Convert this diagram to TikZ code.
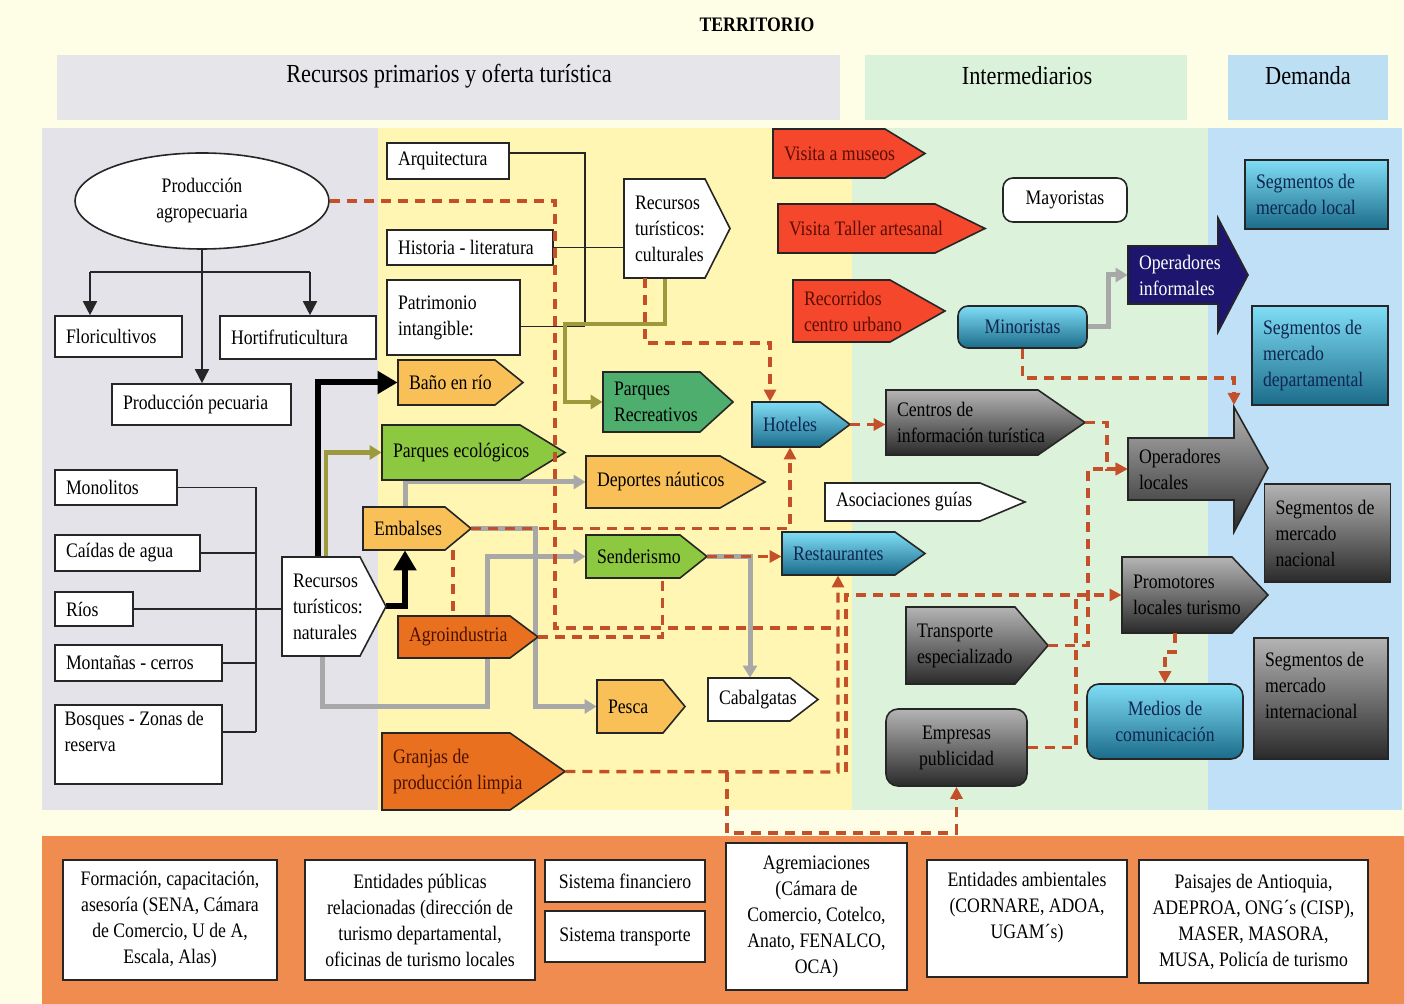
\documentclass[tikz,border=0pt]{standalone}
\usepackage{fontspec}
\setmainfont{Liberation Serif}[FakeStretch=0.86]
\usetikzlibrary{arrows.meta,shapes.geometric}
\pgfdeclarelayer{zones}
\pgfdeclarelayer{lines}
\pgfsetlayers{zones,lines,main}

\definecolor{bgY}{HTML}{FEFDE6}
\definecolor{zGray}{HTML}{E3E3E9}
\definecolor{zYel}{HTML}{FFF6B4}
\definecolor{zGrn}{HTML}{DCF2DA}
\definecolor{zBlu}{HTML}{BFE0F6}
\definecolor{hGray}{HTML}{E6E6EA}
\definecolor{hGrn}{HTML}{DAF1DA}
\definecolor{hBlu}{HTML}{BCDFF4}
\definecolor{bOra}{HTML}{F18C50}
\definecolor{lOra}{HTML}{F9C058}
\definecolor{dOra}{HTML}{E8701E}
\definecolor{gLim}{HTML}{8CC840}
\definecolor{gTeal}{HTML}{4DAE6E}
\definecolor{rRed}{HTML}{F5472B}
\definecolor{bTop}{HTML}{80DDF6}
\definecolor{bBot}{HTML}{1B6C8A}
\definecolor{gTop}{HTML}{B4B4B4}
\definecolor{gBot}{HTML}{2A2A2A}
\definecolor{navy}{HTML}{1E166E}
\definecolor{dashR}{HTML}{C4502A}
\definecolor{grayL}{HTML}{A8A8A8}
\definecolor{oliveL}{HTML}{9C9A3C}
\definecolor{txtR}{HTML}{5A0E04}
\definecolor{txtO}{HTML}{4A1000}
\definecolor{txtB}{HTML}{0E2650}

\tikzset{
  box/.style={draw=black!85, line width=0.8pt},
  wbox/.style={box, fill=white},
  bshade/.style={box, top color=bTop, bottom color=bBot},
  gshade/.style={box, top color=gTop, bottom color=gBot},
  bbox/.style={bshade, text=txtB},
  gbox/.style={gshade},
  lft/.style={align=left, text width=\bxt pt},
  ctr/.style={align=center, text width=\bxc pt, inner xsep=2pt},
  thinl/.style={draw=black!85, line width=0.8pt},
  tarr/.style={thinl, -{Triangle[length=7pt,width=7pt]}},
  bar/.style={draw=black, line width=3pt, -{Triangle[length=10pt,width=11pt]}},
  gar/.style={draw=grayL, line width=2.5pt, -{Triangle[length=6pt,width=7pt]}},
  oar/.style={draw=oliveL, line width=2.2pt, -{Triangle[length=6pt,width=7pt]}},
  rd/.style={draw=dashR, line width=1.7pt, dash pattern=on 5pt off 3.5pt},
  rda/.style={rd, -{Triangle[length=6pt,width=6pt]}},
}

\newcommand\tsp{\spaceskip=.215em\xspaceskip=.24em\relax}

% box: name, x1, y1, x2, y2, style, text
\newcommand\rbx[7]{%
  \pgfmathsetmacro\bxw{(#4-#2)*0.5}%
  \pgfmathsetmacro\bxh{(#5-#3)*0.5}%
  \pgfmathsetmacro\bxt{(#4-#2)*0.5-11}%
  \pgfmathsetmacro\bxc{(#4-#2)*0.5-4}%
  \node[minimum width=\bxw pt, minimum height=\bxh pt, inner xsep=5.5pt, inner ysep=0pt, lft, #6] (#1) at ({(#2+#4)/2},{(#3+#5)/2}) {\tsp #7};}

% pentagon: name, x1, y1, x2, y2, body x, shape style, text style, text
\newcommand\pnt[9]{%
  \path[box,#7] (#2,#3) -- (#6,#3) -- (#4,{(#3+#5)/2}) -- (#6,#5) -- (#2,#5) -- cycle;
  \rbx{#1}{#2}{#3}{#4}{#5}{#8}{#9}}

\begin{document}
\begin{tikzpicture}[x=0.5pt, y=-0.5pt, font=\fontsize{10.3}{13}\selectfont]
\useasboundingbox (0,0) rectangle (1404,1004);

\begin{pgfonlayer}{zones}
\fill[bgY] (0,0) rectangle (1404,1004);
\fill[hGray] (57,55) rectangle (840,120);
\fill[hGrn] (865,55) rectangle (1187,120);
\fill[hBlu] (1228,55) rectangle (1388,120);
\fill[zGray] (42,128) rectangle (378,810);
\fill[zYel] (378,128) rectangle (852,810);
\fill[zGrn] (852,128) rectangle (1208,810);
\fill[zBlu] (1208,128) rectangle (1402,810);
\fill[bOra] (42,836) rectangle (1404,1004);
\end{pgfonlayer}

% titles
\node[font=\fontsize{10.3}{12}\selectfont\bfseries] (terr) at (757,25) {TERRITORIO};
\node[font=\fontsize{13}{15}\selectfont] (hrec) at (449,76) {Recursos primarios y oferta turística};
\node[font=\fontsize{13}{15}\selectfont] (hint) at (1027,76) {Intermediarios};
\node[font=\fontsize{13}{15}\selectfont] (hdem) at (1308,76) {Demanda};

% ---- gray zone
\node[ellipse, draw=black!85, line width=0.8pt, fill=white, minimum width=127pt, minimum height=48pt, align=center, inner sep=0pt] (prod) at (202,201) {Producción\\agropecuaria};
\rbx{flori}{55}{316}{182}{357}{wbox}{Floricultivos}
\rbx{horti}{220}{316}{376}{359}{wbox}{Hortifruticultura}
\rbx{pecu}{112}{384}{291}{425}{wbox}{Producción pecuaria}
\rbx{mono}{55}{470}{177}{505}{wbox}{Monolitos}
\rbx{caida}{55}{535}{200}{571}{wbox}{Caídas de agua}
\rbx{rios}{55}{592}{133}{626}{wbox}{Ríos}
\rbx{mont}{55}{645}{222}{681}{wbox}{Montañas - cerros}
\rbx{bosq}{55}{705}{222}{784}{wbox, text width=74pt, inner xsep=3pt}{Bosques - Zonas de\\reserva\\\mbox{}}
\pnt{nat}{282}{557}{386}{656}{360}{fill=white}{}{Recursos\\turísticos:\\naturales}

% ---- yellow zone
\rbx{arq}{387}{143}{509}{179}{wbox}{Arquitectura}
\rbx{hist}{387}{230}{553}{265}{wbox}{Historia - literatura}
\rbx{patr}{387}{280}{520}{355}{wbox}{Patrimonio\\intangible:}
\pnt{cult}{624}{179}{730}{278}{705}{fill=white}{}{Recursos\\turísticos:\\culturales}
\pnt{bano}{398}{360}{523}{405}{495}{fill=lOra}{}{Baño en río}
\pnt{pecol}{382}{425}{565}{480}{520}{fill=gLim}{}{Parques ecológicos}
\pnt{emb}{363}{507}{471}{550}{445}{fill=lOra}{}{Embalses}
\pnt{agro}{398}{616}{538}{658}{510}{fill=dOra}{text=txtO}{Agroindustria}
\pnt{gran}{382}{733}{565}{810}{510}{fill=dOra}{text=txtO}{Granjas de\\producción limpia}
\pnt{precr}{603}{372}{733}{432}{700}{fill=gTeal}{}{Parques\\Recreativos}
\pnt{dep}{586}{456}{765}{508}{720}{fill=lOra}{}{Deportes náuticos}
\pnt{send}{586}{535}{707}{578}{680}{fill=gLim}{}{Senderismo}
\pnt{pesca}{597}{680}{685}{733}{663}{fill=lOra}{}{Pesca}
\pnt{cab}{708}{678}{818}{721}{790}{fill=white}{}{Cabalgatas}
\pnt{hot}{752}{402}{850}{447}{820}{bshade}{text=txtB}{Hoteles}
\pnt{rest}{782}{532}{925}{575}{895}{bshade}{text=txtB}{Restaurantes}
\pnt{vmus}{773}{129}{925}{178}{885}{fill=rRed}{text=txtR}{Visita a museos}
\pnt{vtal}{778}{204}{985}{253}{935}{fill=rRed}{text=txtR}{Visita Taller artesanal}
\pnt{reco}{793}{280}{945}{342}{890}{fill=rRed}{text=txtR}{Recorridos\\centro urbano}

% ---- green zone
\rbx{mayo}{1003}{178}{1127}{222}{wbox, rounded corners=5pt, ctr}{Mayoristas}
\rbx{mino}{958}{306}{1087}{348}{bbox, rounded corners=5pt, ctr}{Minoristas}
\pnt{cent}{886}{390}{1085}{455}{1038}{gshade}{}{Centros de\\información turística}
\pnt{asoc}{825}{483}{1025}{521}{980}{fill=white}{}{Asociaciones guías}
\pnt{prom}{1122}{557}{1268}{633}{1232}{gshade}{}{Promotores\\locales turismo}
\pnt{trans}{906}{607}{1048}{684}{1015}{gshade}{}{Transporte\\especializado}
\rbx{emp}{886}{709}{1027}{786}{gbox, rounded corners=6pt, ctr}{Empresas\\publicidad}
\rbx{med}{1087}{684}{1243}{759}{bbox, rounded corners=6pt, ctr}{Medios de\\comunicación}

\path[box, fill=navy] (1128,246) -- (1218,246) -- (1218,218) -- (1248,275) -- (1218,332) -- (1218,304) -- (1128,304) -- cycle;
\rbx{opinf}{1128}{246}{1248}{304}{text=white}{Operadores\\informales}
\path[box, gshade] (1128,438) -- (1234,438) -- (1234,407) -- (1268,468) -- (1234,532) -- (1234,500) -- (1128,500) -- cycle;
\rbx{oploc}{1128}{438}{1268}{500}{}{Operadores\\locales}

% ---- blue zone
\rbx{sloc}{1245}{160}{1388}{229}{bbox}{Segmentos de\\mercado local}
\rbx{sdep}{1252}{306}{1388}{405}{bbox}{Segmentos de\\mercado\\departamental}
\rbx{snac}{1267}{484}{1388}{582}{gbox, text width=52pt}{Segmentos de\\mercado\\nacional}
\rbx{sint}{1254}{638}{1388}{759}{gbox}{Segmentos de\\mercado\\internacional\\\mbox{}}

% ---- bottom band
\rbx{form}{63}{860}{277}{980}{wbox, ctr}{Formación, capacitación,\\asesoría (SENA, Cámara\\de Comercio, U de A,\\Escala, Alas)}
\rbx{entp}{305}{860}{535}{980}{wbox, ctr}{Entidades públicas\\relacionadas (dirección de\\turismo departamental,\\oficinas de turismo locales}
\rbx{sfin}{545}{860}{705}{902}{wbox, ctr}{Sistema financiero}
\rbx{stra}{545}{911}{705}{962}{wbox, ctr}{Sistema transporte}
\rbx{agrem}{726}{843}{907}{990}{wbox, ctr}{Agremiaciones\\(Cámara de\\Comercio, Cotelco,\\Anato, FENALCO,\\OCA)}
\rbx{entam}{927}{860}{1127}{977}{wbox, ctr}{Entidades ambientales\\(CORNARE, ADOA,\\UGAM´s)\\\mbox{}}
\rbx{pais}{1139}{860}{1368}{983}{wbox, ctr, text width=110pt}{Paisajes de Antioquia,\\ADEPROA, ONG´s (CISP),\\MASER, MASORA,\\MUSA, Policía de turismo}

% ---- coordinates
\coordinate (bL) at (90,272);
\coordinate (bR) at (310,272);
\coordinate (bus1) at (256,487);
\coordinate (bus2) at (256,732);
\coordinate (cv) at (585,326.5);
\coordinate (olc) at (565,324);
\coordinate (g1) at (487,707);
\coordinate (g2) at (535,706.5);
\coordinate (gm) at (1108,300);
\coordinate (d1) at (555,628);
\coordinate (rv) at (838,772);
\coordinate (rv2) at (846,772);
\coordinate (ag1) at (727,772);
\coordinate (ag2) at (727,833);
\coordinate (rc1) at (700,343);
\coordinate (c1) at (1107,450);
\coordinate (t1) at (1088,600);
\coordinate (e1) at (1076,597);
\coordinate (mo1) at (1234,378);
\coordinate (olhead) at (1234,405);
\coordinate (pm1) at (1170,652);

% ---- solid connectors (under the boxes)
\begin{pgfonlayer}{lines}
\draw[tarr] (prod.south) -- (prod.south |- pecu.north);
\draw[thinl] (bL) -- (bR);
\draw[tarr] (bL) -- (bL |- flori.north);
\draw[tarr] (bR) -- (bR |- horti.north);
\draw[thinl] (bus1) -- (bus2);
\draw[thinl] (mono.east) -- (mono.east -| bus1);
\draw[thinl] (caida.east) -- (caida.east -| bus1);
\draw[thinl] (mont.east) -- (mont.east -| bus1);
\draw[thinl] (bosq.east |- bus2) -- (bus2);
\draw[thinl] (rios.east) -- (rios.east -| nat.west);
\draw[thinl] ([yshift=4pt]arq.east) -| (cv);
\draw[thinl] ([yshift=-4.5pt]patr.east) -- (cv);
\draw[thinl] (hist.east) -- (hist.east -| cult.west);
\draw[oar] ([xshift=-6pt]cult.south) |- (olc) |- (precr.west);
\draw[oar] ([xshift=-4pt]nat.north) |- (pecol.west);
\draw[bar] ([xshift=-8pt]nat.north) |- (bano.west);
\draw[bar] (nat.east) -| ([xshift=-6pt]emb.south);
\draw[gar] ([xshift=-6pt]emb.north) |- (dep.west);
\draw[gar] ([xshift=-6pt]nat.south) |- (g1) |- (send.west);
\draw[gar] (emb.east) -| (g2) -- (pesca.west);
\draw[gar] (send.east) -| ([xshift=-6.5pt]cab.north);
\draw[gar] (mino.east) -| (gm) |- (opinf.west);
\end{pgfonlayer}

% ---- dashed connectors (over the boxes)
\draw[rd] (prod.east) -| (d1) -- (rv |- d1);
\draw[rda] (gran.east) -- (rv) -- (rv |- rest.south);
\draw[rda] (rv2) |- (prom.west);
\draw[rda] (ag1) -- (ag2) -| (emp.south);
\draw[rda] (emb.east) -| ([xshift=-5.5pt]hot.south);
\draw[rd] ([xshift=18pt]emb.south) -- ([xshift=18pt]emb.south |- agro.north);
\draw[rd] (agro.east) -| ([xshift=8pt]send.south);
\draw[rda] (send.east) -- (send.east -| rest.west);
\draw[rda] ([xshift=-16pt]cult.south) |- (rc1) -| ([xshift=-15.5pt]hot.north);
\draw[rda] (hot.east) -- (hot.east -| cent.west);
\draw[rda] (cent.east) -| (c1) |- (oploc.west);
\draw[rda] (trans.east) -| (t1) |- (oploc.west);
\draw[rd] (emp.east) -| (e1);
\draw[rda] (mino.south) |- (mo1) -- (olhead);
\draw[rda] ([xshift=-10pt]prom.south) |- (pm1) -| (med.north);
\end{tikzpicture}
\end{document}
